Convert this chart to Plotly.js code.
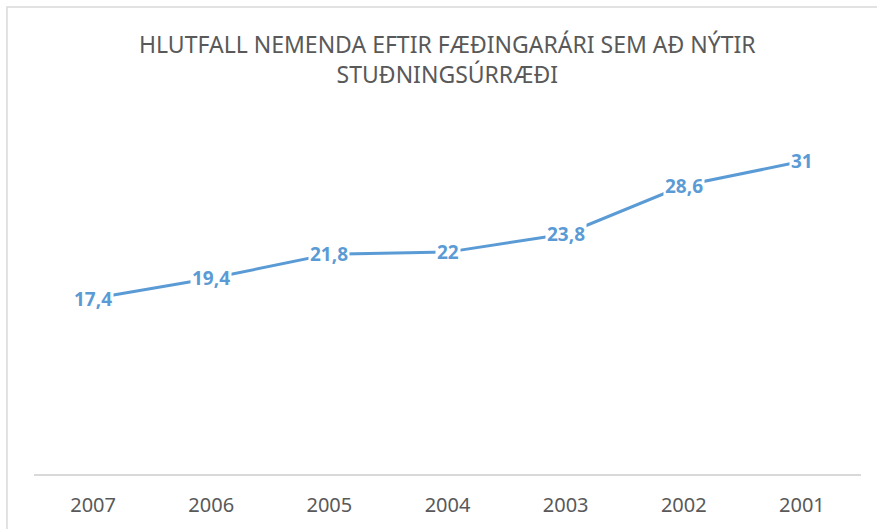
<!DOCTYPE html>
<html>
<head>
<meta charset="utf-8">
<script src="https://cdn.plot.ly/plotly-3.0.1.min.js"></script>
<style>html,body{margin:0;padding:0;background:#fff;}#chart{width:877px;height:529px;}</style>
</head>
<body>
<div id="chart"></div>
<script>
const years = ["2007", "2006", "2005", "2004", "2003", "2002", "2001"];
const values = [17.4, 19.4, 21.8, 22, 23.8, 28.6, 31];
const chartTitle = "HLUTFALL NEMENDA EFTIR FÆÐINGARÁRI SEM AÐ NÝTIR<br>STUÐNINGSÚRRÆÐI";

const lineColor = "#5B9BD5";
const textGray = "#595959";
const fontFam = "Noto Sans, Open Sans, DejaVu Sans, sans-serif";

const trace = {
  x: years,
  y: values,
  type: "scatter",
  mode: "lines",
  line: {color: lineColor, width: 3},
  hoverinfo: "skip"
};

const annotations = years.map((yr, i) => ({
  x: i, y: values[i], xref: "x", yref: "y",
  text: String(values[i]).replace(".", ","),
  showarrow: false,
  xanchor: "center", yanchor: "middle",
  font: {family: fontFam, size: 19, color: lineColor, weight: "bold"},
  bgcolor: "#ffffff",
  borderpad: 1
}));

annotations.push({
  xref: "paper", yref: "paper", x: 0.5, y: 1.176,
  xanchor: "center", yanchor: "middle",
  text: chartTitle, showarrow: false,
  font: {family: fontFam, size: 23, color: textGray}
});

const layout = {
  width: 877, height: 529,
  margin: {l: 34, r: 16, t: 121, b: 55},
  paper_bgcolor: "#ffffff",
  plot_bgcolor: "#ffffff",
  showlegend: false,
  xaxis: {
    type: "category",
    categoryorder: "array", categoryarray: years,
    range: [-0.5, years.length - 0.5],
    showgrid: false, zeroline: false,
    showline: true, linecolor: "#d9d9d9", linewidth: 2,
    ticks: "", ticklabelstandoff: 12,
    tickfont: {family: fontFam, size: 20, color: textGray},
    fixedrange: true
  },
  yaxis: {
    range: [0, 35],
    showgrid: false, zeroline: false, showline: false,
    showticklabels: false, ticks: "",
    fixedrange: true
  },
  annotations: annotations,
  shapes: [{
    type: "rect", xref: "paper", yref: "paper",
    x0: -0.0327, x1: 1.05, y0: -0.2, y1: 1.3229,
    line: {color: "#d9d9d9", width: 1.5}, fillcolor: "rgba(0,0,0,0)", layer: "below"
  }]
};

Plotly.newPlot("chart", [trace], layout, {displayModeBar: false, staticPlot: true});
</script>
</body>
</html>
